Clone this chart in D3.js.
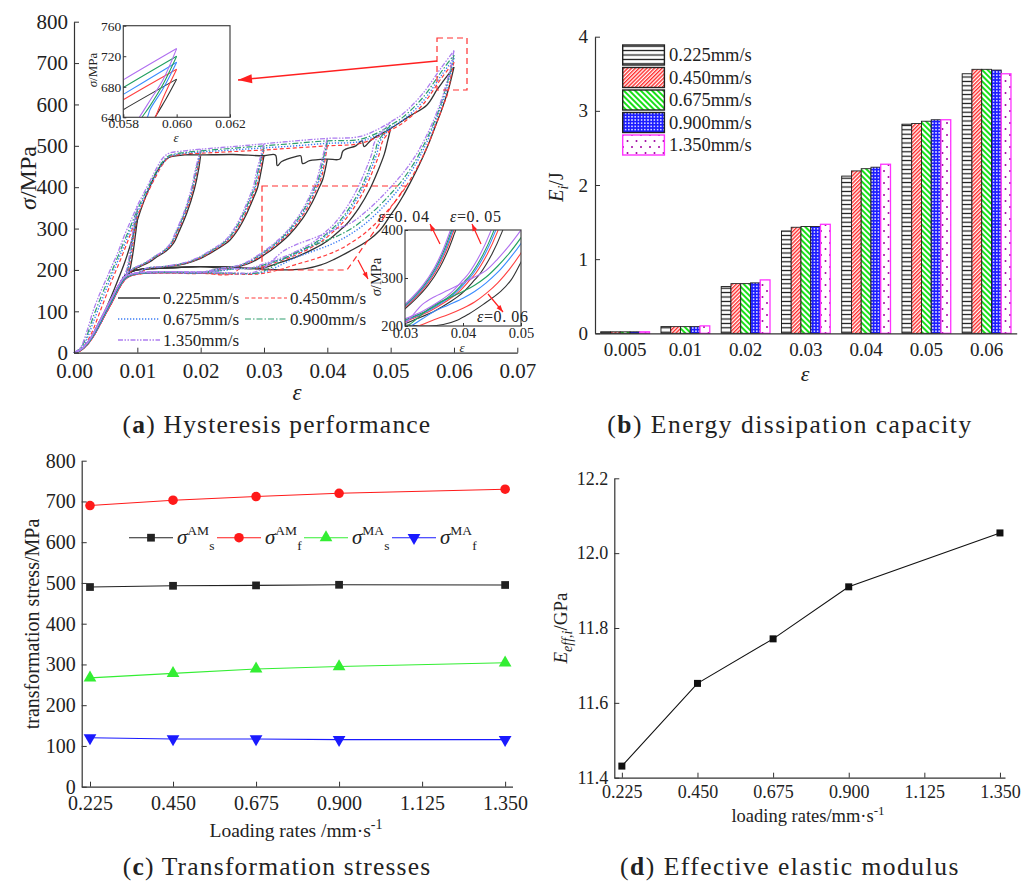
<!DOCTYPE html>
<html><head><meta charset="utf-8">
<script src="https://cdn.jsdelivr.net/npm/d3@7"></script>
<style>
body{margin:0;background:#fff}
svg{display:block}
text{font-family:"Liberation Serif","Times New Roman",serif;fill:#222}
</style>
</head><body>
<svg id="fig" width="1035" height="882"></svg>
<script>
// ================= DATA =================
// Panel (a): hysteresis curves
const rates = ["0.225mm/s","0.450mm/s","0.675mm/s","0.900mm/s","1.350mm/s"];
const envStrain = [0,0.001,0.002,0.003,0.004,0.005,0.006,0.007,0.008,0.009,0.010,0.011,0.012,0.013,0.014,0.015,0.0175,0.020,0.025,0.030,0.035,0.040,0.045,0.048,0.050,0.052,0.055,0.058,0.060];
const envRed    = [0,6,25,55,95,135,175,212,250,290,330,365,398,428,455,472,480,482,486,490,495,500,505,522,538,556,598,663,703];
const envBlue   = [0,8,32,72,112,150,188,225,262,300,338,372,402,432,458,474,482,485,490,495,500,506,510,527,544,563,606,670,712];
const envGreen  = [0,10,40,85,125,162,198,235,272,308,345,378,408,438,462,476,484,488,494,500,506,512,515,532,550,570,615,679,720];
const envPurple = [0,12,50,100,140,175,210,245,285,320,355,385,415,445,470,482,488,492,498,505,512,518,522,540,558,578,625,689,730];
const envBlack = [[0,0],[0.001,5],[0.002,20],[0.003,45],[0.004,75],[0.005,105],[0.006,140],[0.007,178],[0.008,218],[0.009,265],[0.010,320],[0.011,365],[0.012,402],[0.013,435],[0.014,458],[0.015,472],[0.0175,478],[0.020,478],[0.025,479],[0.030,476],[0.0318,478],[0.0321,452],[0.0328,462],[0.035,474],[0.0358,476],[0.0361,457],[0.0372,464],[0.040,468],[0.042,468],[0.0425,488],[0.0445,500],[0.0455,512],[0.0458,498],[0.047,515],[0.050,542],[0.0528,570],[0.0557,598],[0.0573,635],[0.058,650],[0.060,690]];

const retStrain = [0.034,0.030,0.025,0.020,0.015,0.012,0.010,0.009,0.008,0.007,0.006,0.005,0.004,0.003,0.002,0.001,0];
const retBlack  = [200,202,207,208,205,203,200,195,185,160,130,100,70,42,20,6,0];
const retRed    = [190,188,190,192,193,192,190,186,176,152,122,94,65,38,18,5,0];
const retBlue   = [191,189,191,193,194,193,191,187,178,155,125,97,67,40,19,6,0];
const retGreen  = [192,190,192,194,195,194,192,188,180,158,128,100,70,42,20,6,0];
const retPurple = [194,192,193,195,196,195,193,190,183,162,133,104,74,45,22,7,0];

const loopStrains = [0.010,0.020,0.030,0.040,0.050];
const unload01 = [[0.010,320],[0.0097,285],[0.0094,250],[0.0091,222],[0.0088,200],[0.0085,190]];
const unload02 = [[0.020,478],[0.0197,445],[0.019,395],[0.0178,337],[0.0165,290],[0.0157,264],[0.0145,245],[0.0131,232],[0.012,220],[0.0104,208],[0.0094,200]];
const unload03 = [[0.030,476],[0.0295,435],[0.029,400],[0.028,362],[0.0273,337],[0.026,300],[0.0246,272],[0.022,245],[0.020,228],[0.0175,215],[0.0146,208],[0.012,204]];
const unload04 = [[0.040,468],[0.0397,445],[0.0393,420],[0.0385,392],[0.0375,360],[0.036,322],[0.034,285],[0.032,258],[0.030,236],[0.028,218],[0.026,208],[0.024,204]];
const unload05 = [[0.050,542],[0.0495,510],[0.049,480],[0.048,440],[0.0467,395],[0.045,350],[0.043,310],[0.042,296],[0.040,270],[0.038,252],[0.0352,232],[0.032,215],[0.0299,205],[0.027,203]];
// strain shift of each unloading branch, per loop, per rate
const shift01 = [0,-0.0002,-0.0003,-0.0004,-0.0005];
const shift02 = [0,-0.0002,-0.0003,-0.0004,-0.0005];
const shift03 = [0,-0.0002,-0.0004,-0.0005,-0.0007];
const shift04 = [0,-0.0003,-0.0005,-0.0007,-0.0009];
const shift05 = [0,-0.0008,-0.0012,-0.0015,-0.0020];
// unloading from 0.06, per rate
const u06Black  = [[0.060,690],[0.0595,658],[0.059,630],[0.058,585],[0.057,545],[0.056,505],[0.055,470],[0.054,438],[0.053,408],[0.052,380],[0.051,355],[0.050,333],[0.0483,296],[0.0465,272],[0.0435,245],[0.041,225],[0.039,212],[0.0366,203],[0.034,200]];
const u06Red    = [[0.060,703],[0.0595,666],[0.0592,640],[0.059,626],[0.058,585],[0.057,545],[0.056,506],[0.055,472],[0.054,442],[0.052,392],[0.050,352],[0.048,318],[0.046,290],[0.044,268],[0.042,250],[0.040,237],[0.0375,224],[0.035,213],[0.033,203],[0.031,195],[0.029,190]];
const u06Blue   = [[0.060,712],[0.0595,678],[0.059,650],[0.0589,640],[0.058,598],[0.057,556],[0.056,518],[0.055,486],[0.054,457],[0.052,410],[0.050,372],[0.048,340],[0.046,312],[0.044,290],[0.042,272],[0.040,258],[0.0375,244],[0.035,230],[0.033,215],[0.031,200],[0.029,192]];
const u06Green  = [[0.060,720],[0.0595,684],[0.059,655],[0.0587,640],[0.058,604],[0.057,562],[0.056,526],[0.055,495],[0.054,466],[0.052,420],[0.050,384],[0.048,352],[0.046,325],[0.044,302],[0.042,285],[0.040,272],[0.0375,258],[0.035,243],[0.033,225],[0.031,205],[0.029,193]];
const u06Purple = [[0.060,730],[0.0595,690],[0.059,662],[0.0586,640],[0.058,610],[0.057,570],[0.056,535],[0.055,505],[0.054,478],[0.052,435],[0.050,400],[0.048,368],[0.046,340],[0.044,316],[0.042,302],[0.040,290],[0.0375,275],[0.0349,260],[0.033,245],[0.0315,225],[0.030,205],[0.028,193]];

// Panel (b): energy dissipation
const eCats = ["0.005","0.01","0.02","0.03","0.04","0.05","0.06"];
const e0225 = [0.02,0.09,0.63,1.38,2.12,2.82,3.50];
const e0450 = [0.02,0.09,0.67,1.43,2.19,2.83,3.56];
const e0675 = [0.02,0.09,0.67,1.44,2.22,2.86,3.56];
const e0900 = [0.02,0.09,0.68,1.44,2.24,2.88,3.55];
const e1350 = [0.02,0.10,0.72,1.47,2.28,2.88,3.50];

// Panel (c): transformation stresses
const loadRates = [0.225,0.450,0.675,0.900,1.350];
const sAMs = [490,493,494,495.5,495];
const sAMf = [690,703,712,720,730];
const sMAs = [267,278,289,295,304];
const sMAf = [120,117,117,115.5,115.5];

// Panel (d): effective elastic modulus
const eEff = [11.431,11.652,11.771,11.910,12.054];

// tick labels
const rateTicks = [0.225,0.450,0.675,0.900,1.125,1.350];

// ================= DRAWING =================
const svg = d3.select("#fig");
const defs = svg.append("defs");

function styleAxis(g, fs){
  g.attr("font-family",null).attr("font-size",null);
  g.select(".domain").attr("stroke","#333").attr("stroke-width",1.2);
  g.selectAll(".tick line").attr("stroke","#333").attr("stroke-width",1);
  g.selectAll(".tick text").style("font-size",fs+"px").attr("fill","#222");
}
function caption(x,y,letter,rest,ls){
  const t = svg.append("text").attr("x",x).attr("y",y).attr("text-anchor","middle")
    .style("font-size","25.5px").style("letter-spacing",ls+"px");
  t.append("tspan").text("(");
  t.append("tspan").attr("font-weight","bold").text(letter);
  t.append("tspan").text(") "+rest);
}
function arrow(g,x1,y1,x2,y2,hl,hw,w){
  g.append("line").attr("x1",x1).attr("y1",y1).attr("x2",x2).attr("y2",y2)
    .attr("stroke","#ff2020").attr("stroke-width",w);
  const a = Math.atan2(y2-y1,x2-x1);
  const bx = x2 - hl*Math.cos(a), by = y2 - hl*Math.sin(a);
  const px = -Math.sin(a)*hw/2, py = Math.cos(a)*hw/2;
  g.append("path").attr("d",`M${x2},${y2}L${bx+px},${by+py}L${bx-px},${by-py}Z`).attr("fill","#ff2020");
}

// ---------- Panel (a) ----------
const envStress = [null, envRed, envBlue, envGreen, envPurple];
const retStress = [retBlack, retRed, retBlue, retGreen, retPurple];
const unloads = [unload01, unload02, unload03, unload04, unload05];
const shifts = [shift01, shift02, shift03, shift04, shift05];
const u06 = [u06Black, u06Red, u06Blue, u06Green, u06Purple];

function ratePaths(r){
  const env = r===0 ? envBlack : envStrain.map((e,i)=>[e, envStress[r][i]]);
  const envAt = e => env.find(p=>Math.abs(p[0]-e)<1e-9)[1];
  const ret = retStrain.map((e,i)=>[e, retStress[r][i]]);
  const paths = [env];
  loopStrains.forEach((k,j)=>{
    const base = unloads[j];
    const pts = [[k, envAt(k)]].concat(base.slice(1).map(p=>[p[0]+shifts[j][r], p[1]]));
    const last = pts[pts.length-1][0];
    paths.push(pts.concat(ret.filter(p=>p[0] < last-0.0008)));
  });
  const u = u06[r], last = u[u.length-1][0];
  paths.push(u.concat(ret.filter(p=>p[0] < last-0.0008)));
  return paths;
}
const mainStyle = [
  {c:"#333333", d:null, w:1.3},
  {c:"#ff3b3b", d:"4,2.5", w:1.2},
  {c:"#3b7cf5", d:"1.3,1.7", w:1.4},
  {c:"#2e9e6e", d:"6,2,1.5,2", w:1.2},
  {c:"#ad7ef0", d:"5,1.5,1.5,1.5,1.5,1.5", w:1.3}
];
const insetColors = ["#333333","#ff4040","#3a8cff","#22a060","#b070f0"];
const mkLine = (xs,ys) => d3.line().x(d=>xs(d[0])).y(d=>ys(d[1])).curve(d3.curveCatmullRom.alpha(0.5));

const xA = d3.scaleLinear().domain([0,0.07]).range([74,517.3]);
const yA = d3.scaleLinear().domain([0,800]).range([352.7,21.7]);
const gA = svg.append("g");
const lineA = mkLine(xA,yA);
rates.forEach((rt,r)=>{
  ratePaths(r).forEach(p=>{
    gA.append("path").attr("d",lineA(p)).attr("fill","none")
      .attr("stroke",mainStyle[r].c).attr("stroke-width",mainStyle[r].w)
      .attr("stroke-dasharray",mainStyle[r].d);
  });
});
gA.append("g").attr("transform","translate(0,352.7)")
  .call(d3.axisBottom(xA).tickValues(d3.range(0,0.0701,0.01)).tickFormat(d3.format(".2f")).tickSizeInner(-5).tickSizeOuter(0).tickPadding(10))
  .call(g=>styleAxis(g,21));
gA.append("g").attr("transform","translate(74,0)")
  .call(d3.axisLeft(yA).tickValues(d3.range(0,801,100)).tickFormat(d3.format("d")).tickSizeInner(-5).tickSizeOuter(0).tickPadding(6))
  .call(g=>styleAxis(g,21));
gA.append("text").attr("transform","translate(36,178) rotate(-90)").attr("text-anchor","middle").style("font-size","24px")
  .call(t=>{t.append("tspan").attr("font-style","italic").text("σ"); t.append("tspan").text("/MPa");});
gA.append("text").attr("x",297).attr("y",400).attr("text-anchor","middle").style("font-size","23px").attr("font-style","italic").text("ε");

// dashed boxes and arrows
gA.append("rect").attr("x",437).attr("y",38).attr("width",30).attr("height",52)
  .attr("fill","none").attr("stroke","#ff3030").attr("stroke-width",1.2).attr("stroke-dasharray","6,4");
gA.append("path").attr("d","M262,186L406,186L347,270L262,270Z")
  .attr("fill","none").attr("stroke","#ff3030").attr("stroke-width",1.2).attr("stroke-dasharray","6,4");
arrow(gA,437,61,238,80,14,9,1.6);
arrow(gA,358,260,368,279,7,5,1.2);

// legend (a)
const legA = [[118,298,0],[245,298,1],[118,319,2],[245,319,3],[118,340,4]];
legA.forEach(([x,y,r])=>{
  gA.append("line").attr("x1",x).attr("x2",x+42).attr("y1",y).attr("y2",y)
    .attr("stroke",mainStyle[r].c).attr("stroke-width",mainStyle[r].w).attr("stroke-dasharray",mainStyle[r].d);
  gA.append("text").attr("x",x+45).attr("y",y+6).style("font-size","17px").text(rates[r]);
});

function drawInset(id,xs,ys,xt,xf,yt,yf,fs,xp){
  const [x0,x1] = xs.range(), [y0,y1] = ys.range();
  const g = gA.append("g");
  g.append("rect").attr("x",x0).attr("y",y1).attr("width",x1-x0).attr("height",y0-y1).attr("fill","#fff");
  defs.append("clipPath").attr("id",id).append("rect").attr("x",x0).attr("y",y1).attr("width",x1-x0).attr("height",y0-y1);
  const cg = g.append("g").attr("clip-path",`url(#${id})`);
  const ln = mkLine(xs,ys);
  rates.forEach((rt,r)=>{
    ratePaths(r).forEach(p=>{
      cg.append("path").attr("d",ln(p)).attr("fill","none").attr("stroke",insetColors[r]).attr("stroke-width",1.1);
    });
  });
  g.append("rect").attr("x",x0).attr("y",y1).attr("width",x1-x0).attr("height",y0-y1)
    .attr("fill","none").attr("stroke","#444").attr("stroke-width",1.2);
  g.append("g").attr("transform",`translate(0,${y0})`)
    .call(d3.axisBottom(xs).tickValues(xt).tickFormat(xf).tickSizeInner(-3).tickSizeOuter(0).tickPadding(xp))
    .call(a=>styleAxis(a,fs)).call(a=>a.select(".domain").remove());
  g.append("g").attr("transform",`translate(${x0},0)`)
    .call(d3.axisLeft(ys).tickValues(yt).tickFormat(yf).tickSizeInner(-3).tickSizeOuter(0).tickPadding(2))
    .call(a=>styleAxis(a,fs)).call(a=>a.select(".domain").remove());
  return g;
}
const xI1 = d3.scaleLinear().domain([0.058,0.062]).range([123.3,230]);
const yI1 = d3.scaleLinear().domain([640,760]).range([117.3,25.7]);
const gI1 = drawInset("clipI1",xI1,yI1,[0.058,0.060,0.062],d3.format(".3f"),[640,680,720,760],d3.format("d"),13.5,1);
gI1.append("text").attr("transform","translate(97,70) rotate(-90)").attr("text-anchor","middle").style("font-size","13px")
  .call(t=>{t.append("tspan").attr("font-style","italic").text("σ"); t.append("tspan").text("/MPa");});
gI1.append("text").attr("x",176).attr("y",142).attr("text-anchor","middle").attr("font-style","italic").style("font-size","13px").text("ε");

const xI2 = d3.scaleLinear().domain([0.03,0.05]).range([405,521]);
const yI2 = d3.scaleLinear().domain([200,400]).range([326,230]);
const gI2 = drawInset("clipI2",xI2,yI2,[0.03,0.04,0.05],d3.format(".2f"),[200,300,400],d3.format("d"),14.5,2);
gI2.append("text").attr("transform","translate(381,277) rotate(-90)").attr("text-anchor","middle").style("font-size","14.5px")
  .call(t=>{t.append("tspan").attr("font-style","italic").text("σ"); t.append("tspan").text("/MPa");});
gI2.append("text").attr("x",462).attr("y",352).attr("text-anchor","middle").attr("font-style","italic").style("font-size","13px").text("ε");
const epsLab = [[378,222,"0. 04"],[450,222,"0. 05"],[477,322,"0. 06"]];
epsLab.forEach(([x,y,s])=>{
  const t = gI2.append("text").attr("x",x).attr("y",y).style("font-size","16px").style("letter-spacing","0.6px");
  t.append("tspan").attr("font-style","italic").text("ε");
  t.append("tspan").text("="+s);
});
arrow(gI2,440,244,430,224,7,5,1.2);
arrow(gI2,481,244,472,224,7,5,1.2);
arrow(gI2,488,294,503,312,7,5,1.2);

caption(277,433,"a","Hysteresis performance",1.2);

// ---------- Panel (b) ----------
function pat(id,w,h,build,tr){
  const p = defs.append("pattern").attr("id",id).attr("patternUnits","userSpaceOnUse").attr("width",w).attr("height",h);
  if(tr) p.attr("patternTransform",tr);
  p.append("rect").attr("width",w).attr("height",h).attr("fill","#fff");
  build(p);
}
pat("pH",4,4.4,p=>p.append("line").attr("x1",0).attr("x2",4).attr("y1",2.2).attr("y2",2.2).attr("stroke","#111").attr("stroke-width",1.2));
pat("pR",2.7,2.7,p=>p.append("line").attr("x1",0.7).attr("x2",0.7).attr("y1",0).attr("y2",2.7).attr("stroke","#ff2a2a").attr("stroke-width",1.4),"rotate(45)");
pat("pG",4,4,p=>p.append("line").attr("x1",1).attr("x2",1).attr("y1",0).attr("y2",4).attr("stroke","#18e018").attr("stroke-width",2),"rotate(-45)");
pat("pB",3.2,3.2,p=>{p.select("rect").attr("fill","#1c1cff"); p.append("circle").attr("cx",1.6).attr("cy",1.6).attr("r",0.85).attr("fill","#fff");});
pat("pP",9,12,p=>{p.append("circle").attr("cx",2).attr("cy",3).attr("r",1).attr("fill","#a000a0"); p.append("circle").attr("cx",6.5).attr("cy",9).attr("r",1).attr("fill","#a000a0");});
const pats = ["url(#pH)","url(#pR)","url(#pG)","url(#pB)","url(#pP)"];
const borders = ["#111","#222","#222","#222","#ff33ff"];
const energy = [e0225,e0450,e0675,e0900,e1350];

const xB = d3.scaleBand().domain(eCats).range([595,1016.7]).paddingInner(0.19).paddingOuter(0.095);
const xSub = d3.scaleBand().domain(d3.range(5)).range([0,xB.bandwidth()]);
const yB = d3.scaleLinear().domain([0,4]).range([333.3,36.7]);
const gB = svg.append("g");
energy.forEach((arr,r)=>{
  gB.selectAll(null).data(arr).enter().append("rect")
    .attr("x",(d,i)=>xB(eCats[i])+xSub(r)).attr("width",xSub.bandwidth())
    .attr("y",d=>yB(d)).attr("height",d=>yB(0)-yB(d))
    .attr("fill",pats[r]).attr("stroke",borders[r]).attr("stroke-width",r===4?1.3:0.9);
});
gB.append("g").attr("transform","translate(0,333.3)")
  .call(d3.axisBottom(xB).tickSize(0).tickPadding(9)).call(g=>styleAxis(g,19));
gB.append("g").attr("transform","translate(595,0)")
  .call(d3.axisLeft(yB).tickValues([0,1,2,3,4]).tickFormat(d3.format("d")).tickSizeInner(-5).tickSizeOuter(0).tickPadding(7))
  .call(g=>styleAxis(g,19));
gB.append("text").attr("transform","translate(563,187) rotate(-90)").attr("text-anchor","middle").style("font-size","20px")
  .call(t=>{t.append("tspan").attr("font-style","italic").text("E");
            t.append("tspan").attr("font-style","italic").attr("dy",5).style("font-size","14px").text("i");
            t.append("tspan").attr("dy",-5).text("/J");});
gB.append("text").attr("x",805).attr("y",381).attr("text-anchor","middle").attr("font-style","italic").style("font-size","22px").text("ε");
rates.forEach((rt,r)=>{
  const y = 45 + r*22.5;
  gB.append("rect").attr("x",622.7).attr("y",y).attr("width",41.7).attr("height",20)
    .attr("fill",pats[r]).attr("stroke",r===4?"#ff33ff":"#222").attr("stroke-width",1.4);
  gB.append("text").attr("x",669).attr("y",y+16).style("font-size","18.5px").text(rt);
});
caption(790,433,"b","Energy dissipation capacity",1.5);

// ---------- Panel (c) ----------
const xC = d3.scaleLinear().domain([0.2025,1.37]).range([81.7,512.5]);
const yC = d3.scaleLinear().domain([0,800]).range([786.7,460.7]);
const gC = svg.append("g");
const seriesC = [
  {v:sAMs, c:"#222", sym:d3.symbolSquare, size:60, rot:0, sup:"AM", sub:"s"},
  {v:sAMf, c:"#ff1a1a", sym:d3.symbolCircle, size:72, rot:0, sup:"AM", sub:"f"},
  {v:sMAs, c:"#33ee33", sym:d3.symbolTriangle, size:70, rot:0, sup:"MA", sub:"s"},
  {v:sMAf, c:"#1a1aff", sym:d3.symbolTriangle, size:70, rot:180, sup:"MA", sub:"f"}
];
const lineC = d3.line().x((d,i)=>xC(loadRates[i])).y(d=>yC(d));
seriesC.forEach(s=>{
  gC.append("path").attr("d",lineC(s.v)).attr("fill","none").attr("stroke",s.c).attr("stroke-width",1.1);
  gC.selectAll(null).data(s.v).enter().append("path")
    .attr("d",d3.symbol().type(s.sym).size(s.size))
    .attr("transform",(d,i)=>`translate(${xC(loadRates[i])},${yC(d)}) rotate(${s.rot})`)
    .attr("fill",s.c);
});
gC.append("g").attr("transform","translate(0,786.7)")
  .call(d3.axisBottom(xC).tickValues(rateTicks).tickFormat(d3.format(".3f")).tickSizeInner(-5).tickSizeOuter(0).tickPadding(9))
  .call(g=>styleAxis(g,20));
gC.append("g").attr("transform","translate(81.7,0)")
  .call(d3.axisLeft(yC).tickValues(d3.range(0,801,100)).tickFormat(d3.format("d")).tickSizeInner(-5).tickSizeOuter(0).tickPadding(6))
  .call(g=>styleAxis(g,20));
gC.append("text").attr("transform","translate(39,624) rotate(-90)").attr("text-anchor","middle").style("font-size","20px").text("transformation stress/MPa");
gC.append("text").attr("x",296).attr("y",837).attr("text-anchor","middle").style("font-size","19.5px")
  .call(t=>{t.append("tspan").text("Loading rates /mm·s"); t.append("tspan").attr("dy",-8).style("font-size","14px").text("-1");});
const legC = [129,217,304,392];
seriesC.forEach((s,i)=>{
  const x = legC[i], y = 537.7;
  gC.append("line").attr("x1",x).attr("x2",x+44).attr("y1",y).attr("y2",y).attr("stroke",s.c).attr("stroke-width",1.1);
  gC.append("path").attr("d",d3.symbol().type(s.sym).size(s.size)).attr("transform",`translate(${x+22},${y}) rotate(${s.rot})`).attr("fill",s.c);
  const t = gC.append("text").attr("x",x+48).attr("y",y+6).style("font-size","21px");
  t.append("tspan").attr("font-style","italic").text("σ");
  t.append("tspan").attr("dy",-9).style("font-size","13.5px").text(s.sup);
  t.append("tspan").attr("dy",15).style("font-size","13.5px").text(s.sub);
});
caption(277,875,"c","Transformation stresses",1.2);

// ---------- Panel (d) ----------
const xD = d3.scaleLinear().domain([0.2025,1.365]).range([614.3,1005]);
const yD = d3.scaleLinear().domain([11.4,12.2]).range([777.7,478.3]);
const gD = svg.append("g");
gD.append("path").attr("d",d3.line().x((d,i)=>xD(loadRates[i])).y(d=>yD(d))(eEff))
  .attr("fill","none").attr("stroke","#111").attr("stroke-width",1.1);
gD.selectAll(null).data(eEff).enter().append("rect")
  .attr("x",(d,i)=>xD(loadRates[i])-3.5).attr("y",d=>yD(d)-3.5).attr("width",7).attr("height",7).attr("fill","#111");
gD.append("g").attr("transform","translate(0,777.7)")
  .call(d3.axisBottom(xD).tickValues(rateTicks).tickFormat(d3.format(".3f")).tickSizeInner(-5).tickSizeOuter(0).tickPadding(8))
  .call(g=>styleAxis(g,18));
gD.append("g").attr("transform","translate(614.3,0)")
  .call(d3.axisLeft(yD).tickValues([11.4,11.6,11.8,12.0,12.2]).tickFormat(d3.format(".1f")).tickSizeInner(-5).tickSizeOuter(0).tickPadding(6))
  .call(g=>styleAxis(g,18));
gD.append("text").attr("transform","translate(567,628) rotate(-90)").attr("text-anchor","middle").style("font-size","19px")
  .call(t=>{t.append("tspan").attr("font-style","italic").text("E");
            t.append("tspan").attr("font-style","italic").attr("dy",5).style("font-size","14px").text("eff,i");
            t.append("tspan").attr("dy",-5).text("/GPa");});
gD.append("text").attr("x",808).attr("y",822).attr("text-anchor","middle").style("font-size","18.5px")
  .call(t=>{t.append("tspan").text("loading rates/mm·s"); t.append("tspan").attr("dy",-7).style("font-size","13px").text("-1");});
caption(790,875,"d","Effective elastic modulus",1.5);
</script>
</body></html>
